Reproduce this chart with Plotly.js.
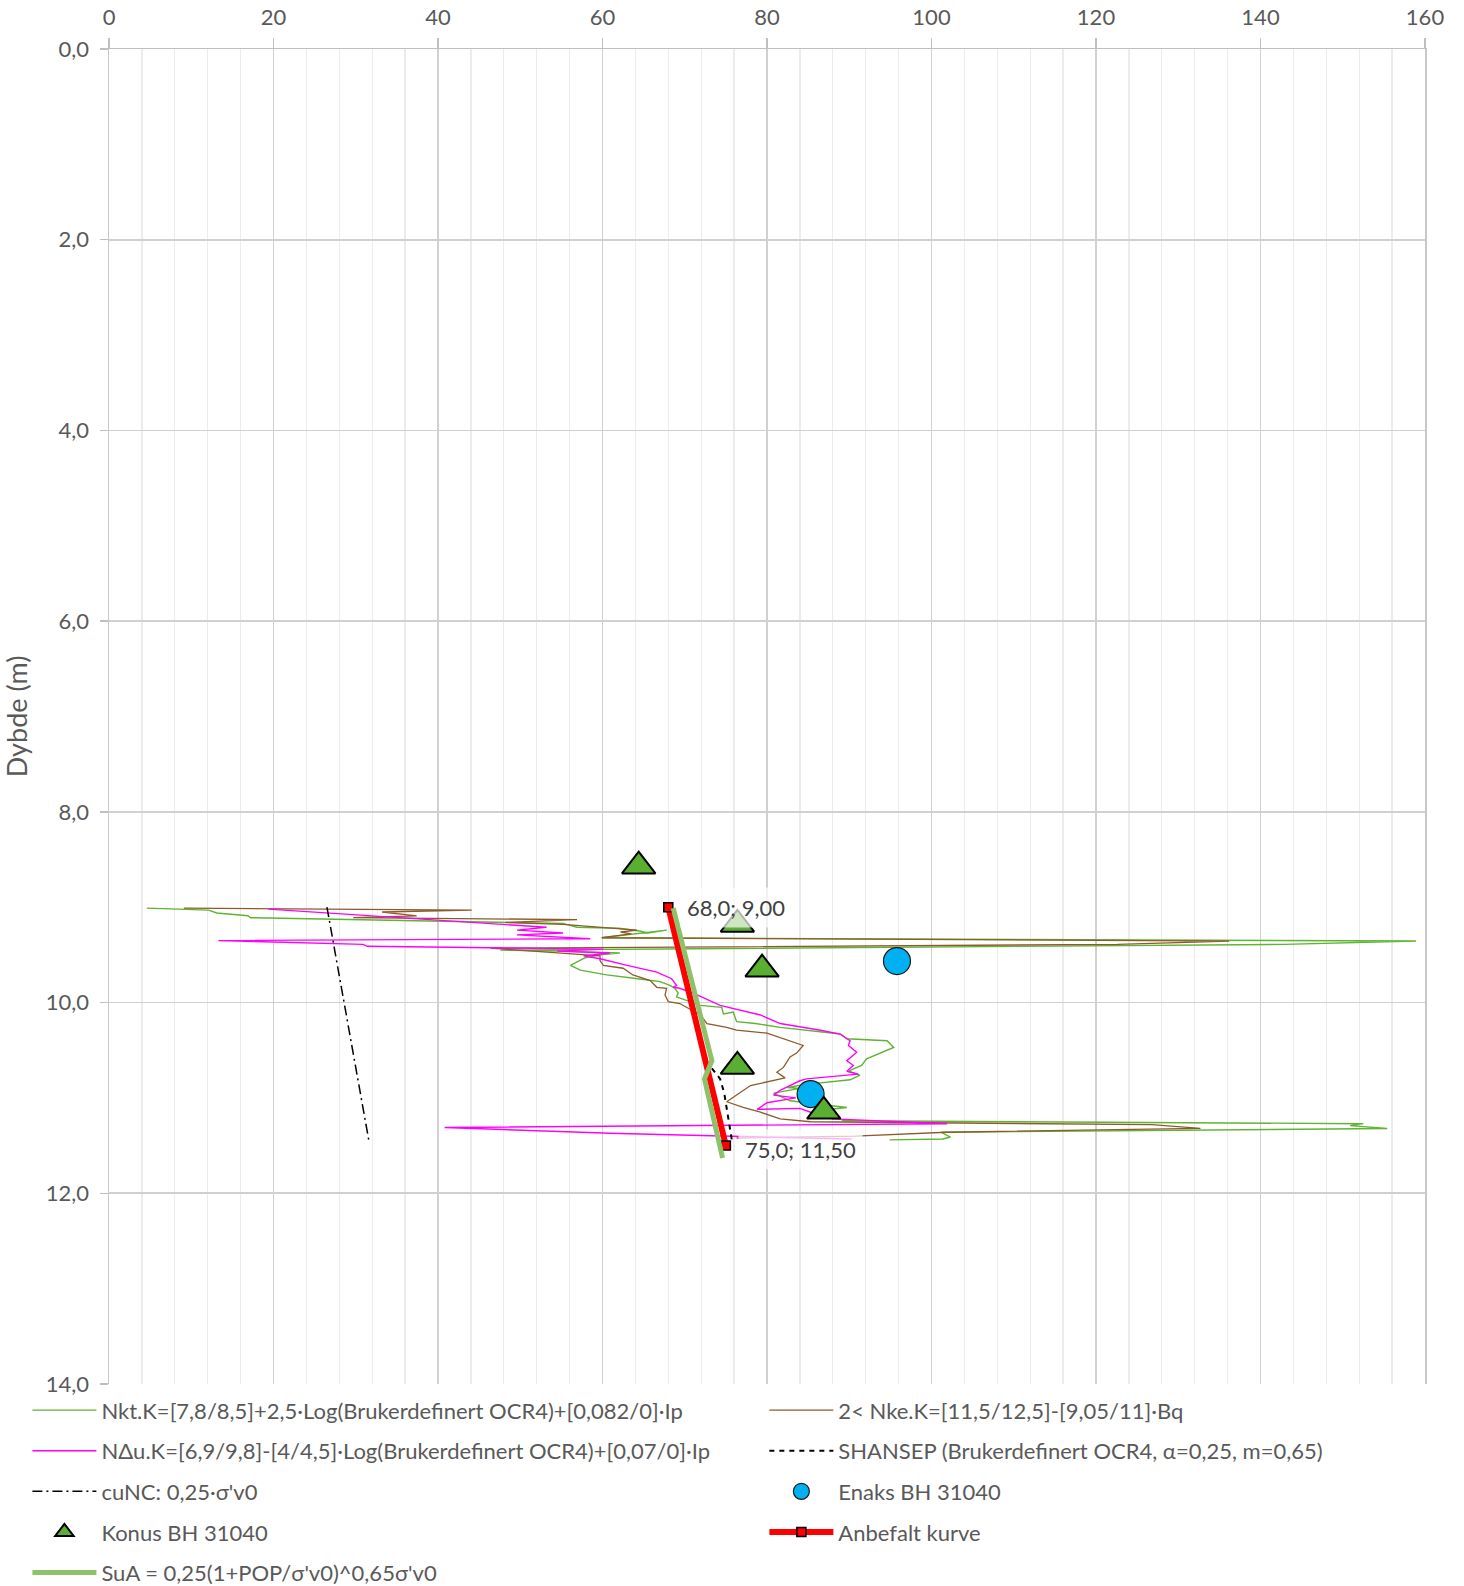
<!DOCTYPE html>
<html><head><meta charset="utf-8">
<script src="https://cdn.plot.ly/plotly-3.0.1.min.js"></script>
<style>html,body{margin:0;padding:0;background:#fff}#chart{width:1464px;height:1586px}</style>
</head><body><div id="chart"></div>
<script>
// Nkt (green)
const nktX = [4.6,12.1,13.1,16.9,17.2,55.2,56.9,62.0,64.5,65.5,67.8,59.9,158.9,142.9,47.6,54.5,62.1,59.7,57.9,56.1,57.3,60.5,64.3,67.0,68.2,68.8,69.2,69.0,71.9,74.5,74.7,75.9,76.3,78.6,81.6,88.9,89.7,94.6,95.4,94.0,92.1,91.5,89.9,91.3,90.1,84.5,82.5,84.0,80.8,82.8,85.8,89.7,86.5,88.5,89.3,152.5,150.9,155.4,101.2,102.3,101.4,94.9];
const nktY = [9.01,9.03,9.06,9.09,9.11,9.17,9.21,9.22,9.25,9.27,9.24,9.32,9.355,9.39,9.45,9.46,9.48,9.50,9.53,9.61,9.66,9.71,9.75,9.78,9.82,9.85,9.90,9.94,10.03,10.05,10.12,10.10,10.20,10.22,10.26,10.33,10.38,10.40,10.47,10.52,10.59,10.66,10.72,10.76,10.81,10.86,10.89,10.90,10.95,11.03,11.06,11.10,11.13,11.20,11.24,11.27,11.29,11.32,11.36,11.41,11.43,11.44];
// Nke (brown)
const nkeX = [9.1,44.1,33.2,37.4,29.7,56.9,48.2,55.2,64.2,62.2,63.5,59.9,136.2,122.6,46.4,59.7,59.7,60.1,62.5,63.7,65.8,66.6,67.8,67.6,68.0,69.4,71.9,72.7,75.1,76.3,80.0,83.6,84.4,83.6,82.8,82.0,81.2,82.2,80.0,78.0,76.3,75.1,77.1,79.2,81.6,85.3,126.8,132.7,101.8,90.7,76.3];
const nkeY = [9.01,9.03,9.05,9.09,9.11,9.13,9.16,9.18,9.24,9.26,9.28,9.32,9.355,9.39,9.43,9.51,9.56,9.61,9.64,9.71,9.77,9.84,9.85,9.92,9.99,10.01,10.13,10.22,10.26,10.29,10.32,10.43,10.45,10.53,10.57,10.68,10.73,10.79,10.83,10.87,10.97,11.04,11.10,11.15,11.22,11.25,11.28,11.32,11.36,11.40,11.42];
// NΔu (magenta)
const nduX = [19.4,26.5,53.2,49.6,55.2,49.6,58.5,13.3,30.9,31.4,60.1,54.5,60.9,57.7,59.7,63.0,65.4,66.6,68.4,69.0,68.6,69.4,71.5,73.1,74.3,79.2,81.6,86.5,88.9,90.1,89.9,90.9,89.7,90.5,89.7,91.1,84.8,84.0,81.6,80.8,83.5,80.0,78.8,84.0,85.3,88.0,101.9,40.8,60.9,74.5,90.3];
const nduY = [9.02,9.06,9.21,9.24,9.27,9.29,9.33,9.35,9.39,9.41,9.44,9.46,9.48,9.51,9.54,9.61,9.66,9.68,9.75,9.82,9.84,9.85,9.92,9.98,10.03,10.13,10.22,10.29,10.33,10.40,10.45,10.52,10.61,10.66,10.72,10.75,10.80,10.82,10.92,10.97,11.00,11.05,11.12,11.11,11.15,11.22,11.27,11.31,11.37,11.40,11.43];
// SHANSEP
const shanX = [73.3,74.3,74.8,75.2,75.8];
const shanY = [10.69,10.80,10.95,11.18,11.48];
// cuNC
const cuncX = [26.5,31.6];
const cuncY = [9.0,11.45];
// Enaks BH 31040
const enaksX = [95.8,85.3];
const enaksY = [9.565,10.96];
// Konus BH 31040
const konusX = [64.4,76.4,79.4,76.4,86.9];
const konusY = [8.57,9.18,9.65,10.67,11.14];
// Anbefalt kurve
const anbX = [68.0,75.0];
const anbY = [9.00,11.50];
const anbLabels = ['68,0; 9,00','75,0; 11,50'];
// SuA
const suaX = [68.6,73.3,72.4,74.6];
const suaY = [9.01,10.61,10.80,11.63];

const names = {
  nkt: 'Nkt.K=[7,8/8,5]+2,5·Log(Brukerdefinert OCR4)+[0,082/0]·Ip',
  nke: '2< Nke.K=[11,5/12,5]-[9,05/11]·Bq',
  ndu: 'NΔu.K=[6,9/9,8]-[4/4,5]·Log(Brukerdefinert OCR4)+[0,07/0]·Ip',
  shan: 'SHANSEP (Brukerdefinert OCR4, α=0,25, m=0,65)',
  cunc: "cuNC: 0,25·σ'v0",
  enaks: 'Enaks BH 31040',
  konus: 'Konus BH 31040',
  anb: 'Anbefalt kurve',
  sua: "SuA = 0,25(1+POP/σ'v0)^0,65σ'v0"
};

const traces = [
  {x:nktX,y:nktY,name:names.nkt,mode:'lines',line:{color:'#5DB531',width:1.4},legend:'legend',legendgroup:'g1'},
  {x:nkeX,y:nkeY,name:names.nke,mode:'lines',line:{color:'#8C5B2C',width:1.3},legend:'legend2',legendgroup:'g2'},
  {x:nduX,y:nduY,name:names.ndu,mode:'lines',line:{color:'#FF00FF',width:1.4},legend:'legend',legendgroup:'g3'},
  {x:shanX,y:shanY,name:names.shan,mode:'lines',line:{color:'#000000',width:2,dash:'5px,5px'},legend:'legend2',legendgroup:'g4'},
  {x:cuncX,y:cuncY,name:names.cunc,mode:'lines',line:{color:'#000000',width:1.5,dash:'10px,4px,2px,4px'},legend:'legend',legendgroup:'g5'},
  {x:enaksX,y:enaksY,name:names.enaks,mode:'markers',marker:{symbol:'circle',size:27,color:'#00B0F0',line:{color:'#1a1a1a',width:1.2}},legend:'legend2',legendgroup:'g6'},
  {x:konusX,y:konusY,name:names.konus,mode:'markers',marker:{symbol:'triangle-up',size:29,color:'#5AAE32',line:{color:'#000000',width:2}},legend:'legend',legendgroup:'g7'},
  {x:anbX,y:anbY,name:names.anb,mode:'lines+markers',line:{color:'#FF0000',width:6},marker:{symbol:'square',size:9,color:'#FF0000',line:{color:'#000000',width:1.5}},legend:'legend2',legendgroup:'g8'},
  {x:suaX,y:suaY,name:names.sua,mode:'lines',line:{color:'#8DC26B',width:5},legend:'legend',legendgroup:'g9'}
];

const txt = '#595959';
const fam = 'Lato, "Open Sans", sans-serif';
const legendFont = {family:fam, size:22, color:txt};

const layout = {
  width:1464, height:1586,
  margin:{l:109, r:39, t:49, b:202, autoexpand:false},
  paper_bgcolor:'#ffffff', plot_bgcolor:'#ffffff',
  separators:', ',
  font:{family:fam, size:22, color:txt},
  showlegend:true,
  hovermode:false,
  xaxis:{
    side:'top', range:[0,160], dtick:20, tick0:0,
    showgrid:true, gridcolor:'#d0d0d0', gridwidth:1.6,
    minor:{dtick:4, showgrid:true, gridcolor:'#ececec', gridwidth:1.3, ticks:''},
    showline:true, linecolor:'#bfbfbf', linewidth:1.5,
    ticks:'outside', ticklen:10, tickcolor:'#bfbfbf', tickwidth:1.5,
    ticklabelstandoff:4,
    tickfont:{size:22, color:txt}, zeroline:false, mirror:false
  },
  yaxis:{
    range:[14,0], dtick:2, tick0:0, tickformat:'.1f',
    showgrid:true, gridcolor:'#d0d0d0', gridwidth:1.6,
    showline:true, linecolor:'#c8c8c8', linewidth:1.5, mirror:true,
    ticks:'outside', ticklen:8, tickcolor:'#bfbfbf', tickwidth:1.5,
    ticklabelstandoff:6,
    tickfont:{size:22, color:txt}, zeroline:false,
    title:{text:'Dybde (m)', font:{size:27, color:txt}, standoff:10}
  },
  legend:{x:-0.062, xanchor:'left', y:-0.004, yanchor:'top', orientation:'v',
    itemwidth:64, font:legendFont, tracegroupgap:9, bgcolor:'rgba(0,0,0,0)', traceorder:'grouped'},
  legend2:{x:0.498, xanchor:'left', y:-0.004, yanchor:'top', orientation:'v',
    itemwidth:64, font:legendFont, tracegroupgap:9, bgcolor:'rgba(0,0,0,0)', traceorder:'grouped'},
  annotations:[
    {x:anbX[0], y:anbY[0], xref:'x', yref:'y', text:anbLabels[0], showarrow:false, xanchor:'left', yanchor:'middle',
     xshift:12, yshift:0, font:{size:22, color:'#404040'}, bgcolor:'rgba(255,255,255,0.7)', borderpad:6},
    {x:anbX[1], y:anbY[1], xref:'x', yref:'y', text:anbLabels[1], showarrow:false, xanchor:'left', yanchor:'middle',
     xshift:12, yshift:-4, font:{size:22, color:'#404040'}, bgcolor:'rgba(255,255,255,0.7)', borderpad:6}
  ]
};

Plotly.newPlot('chart', traces, layout, {displayModeBar:false, staticPlot:true});
</script>
</body></html>
